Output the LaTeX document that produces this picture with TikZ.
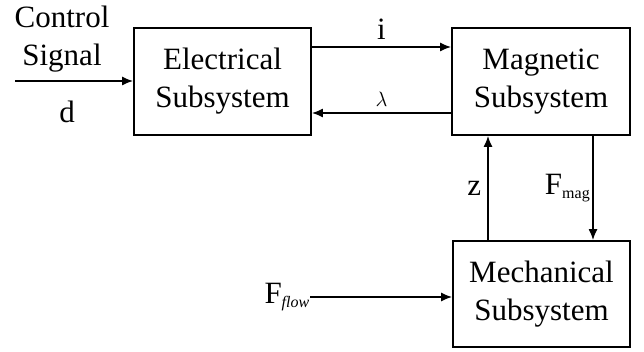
\documentclass[tikz,border=0pt]{standalone}
\usepackage{fontspec}
\setmainfont{Liberation Serif}
\usetikzlibrary{arrows.meta}
\begin{document}
\begin{tikzpicture}[x=1pt,y=-1pt,
  blk/.style={draw,line width=1.8pt,inner sep=0pt},
  lbl/.style={font=\fontsize{31}{38}\selectfont,align=center,inner sep=0pt},
  conn/.style={line width=1.5pt,-{Latex[length=11pt,width=9pt]}}]
\useasboundingbox (0,0) rectangle (644,352);
\node[blk,minimum width=177pt,minimum height=107pt] (el) at (222.5,81.5) {};
\node[lbl] at (el.center) {Electrical\\Subsystem};
\node[blk,minimum width=178pt,minimum height=107pt] (mg) at (541,81.5) {};
\node[lbl] at (mg.center) {Magnetic\\Subsystem};
\node[blk,minimum width=177pt,minimum height=106pt] (me) at (541.5,294) {};
\node[lbl] at (me.center) {Mechanical\\Subsystem};
\coordinate (cin) at (15,81);
\node[lbl] (ctl) at (62,39) {Control\\Signal};
\node[lbl] (d) at (67,112) {d};
\draw[conn] (cin) -- (el.west|-cin);
\draw[conn] (el.east|-0,47) -- node[lbl,above=7pt] (il) {i} (mg.west|-0,47);
\draw[conn] (mg.west|-0,113) -- node[lbl,above=6pt,font=\fontsize{20}{24}\selectfont] (ll) {$\lambda$} (el.east|-0,113);
\draw[conn] (me.north-|488,0) -- node[lbl,left=6pt] (zl) {z} (mg.south-|488,0);
\draw[conn] (mg.south-|593,0) -- node[lbl,left=2pt] (fl) {F\textsubscript{\fontsize{16}{16}\selectfont mag}} (me.north-|593,0);
\node[lbl,anchor=east] (ff) at (310,297) {F\textsubscript{\fontsize{16}{16}\selectfont\itshape flow}};
\draw[conn] (ff.east|-0,297) -- (me.west|-0,297);
\end{tikzpicture}
\end{document}
